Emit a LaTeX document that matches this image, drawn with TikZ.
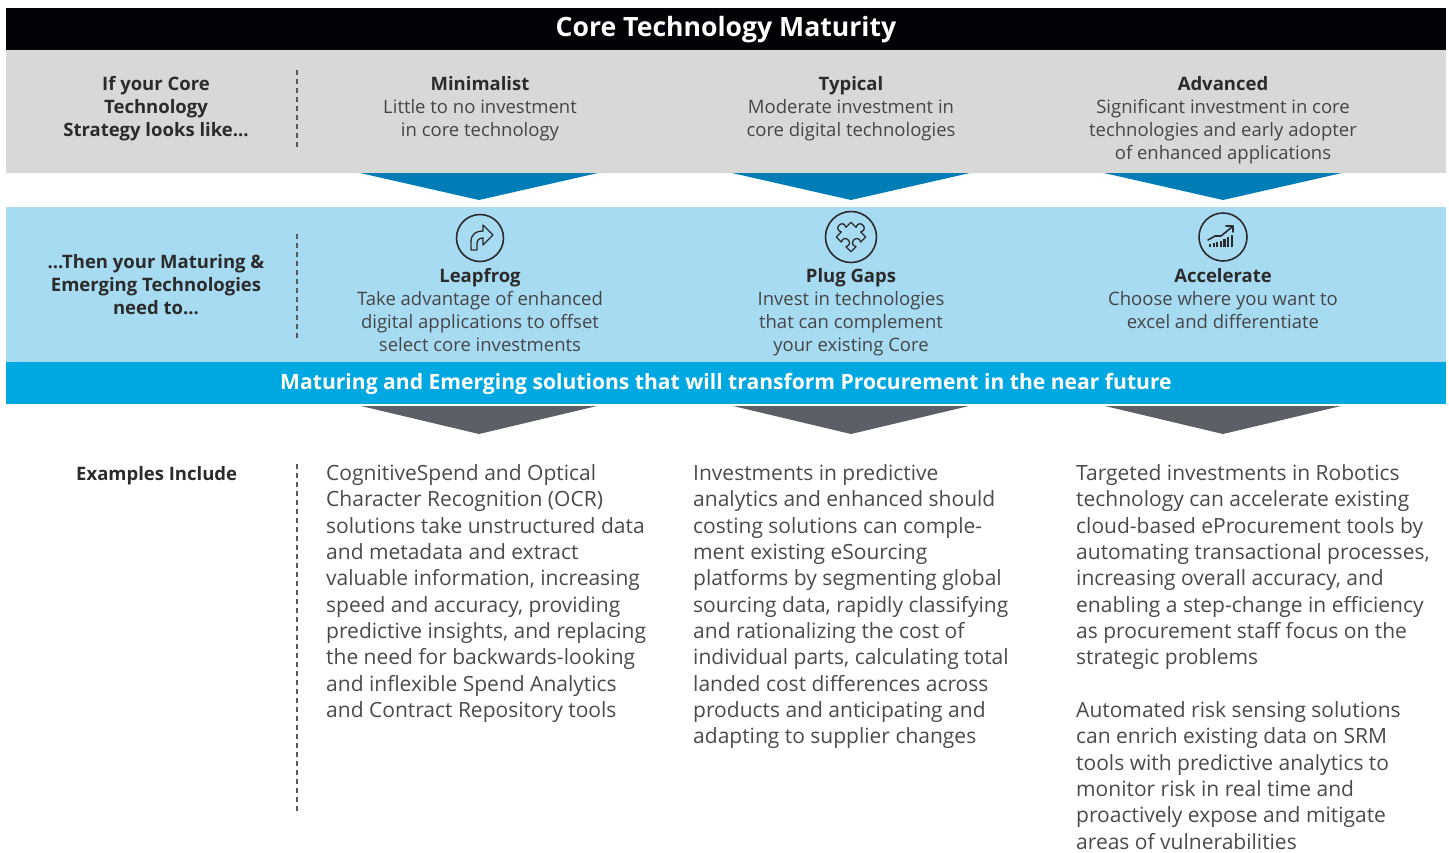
\documentclass[tikz,border=0pt]{standalone}
\usepackage{fontspec}
\setmainfont{Open Sans}
\definecolor{titlebk}{HTML}{030207}
\definecolor{bandgray}{HTML}{D8D9D7}
\definecolor{triblue}{HTML}{007CB6}
\definecolor{lightblue}{HTML}{A7DBF2}
\definecolor{bandblue}{HTML}{00A8E1}
\definecolor{trigray}{HTML}{5B6067}
\definecolor{headtxt}{HTML}{2B2B2B}
\definecolor{subtxt}{HTML}{454545}
\definecolor{bodytxt}{HTML}{4A4A4A}
\definecolor{dashcol}{HTML}{555A60}
\newcommand{\hdfont}{\fontsize{18.5}{23}\selectfont}
\newcommand{\bdfont}{\fontsize{21}{26.33}\selectfont}
\newcommand{\hd}[1]{\textbf{\color{headtxt}#1}}
\tikzset{
  sepline/.style={draw=dashcol, line width=1.5pt, dash pattern=on 5pt off 4pt},
  hdtext/.style={inner sep=0pt, anchor=base, text=subtxt, font=\hdfont},
  bdtext/.style={inner sep=0pt, anchor=base west, text=bodytxt, font=\bdfont},
  iconcirc/.style={draw=headtxt, line width=1.6pt},
  iconline/.style={draw=headtxt, line width=1.3pt, line join=round, line cap=round},
}
\begin{document}
\begin{tikzpicture}[x=1pt,y=-1pt]
\useasboundingbox (0,0) rectangle (1449,852);
% bands
\fill[titlebk] (6,8) rectangle (1446,50);
\fill[bandgray] (6,50) rectangle (1446,173);
\fill[lightblue] (6,207) rectangle (1446,362);
\fill[bandblue] (6,362) rectangle (1446,404);
% chevrons
\foreach \cx in {479,851,1223}{
  \fill[triblue] (\cx-119,173) -- (\cx+119,173) -- (\cx,200) -- cycle;
  \fill[trigray] (\cx-118,406) -- (\cx+118,406) -- (\cx,434) -- cycle;
}
% title
\node[inner sep=0pt, anchor=base, text=white, font=\fontsize{26.6}{30}\selectfont\bfseries] (title) at (726,36.5) {Core Technology Maturity};
% dashed separators
\coordinate (s1a) at (297,70); \coordinate (s1b) at (297,148);
\coordinate (s2a) at (297,234); \coordinate (s2b) at (297,340);
\coordinate (s3a) at (297,464); \coordinate (s3b) at (297,815);
\draw[sepline] (s1a) -- (s1b);
\draw[sepline] (s2a) -- (s2b);
\draw[sepline] (s3a) -- (s3b);
% row 1
\node[hdtext, text=headtxt] (q1) at (156,90.5) {\parbox[t]{260pt}{\centering\bfseries If your Core\\Technology\\Strategy looks like...}};
\node[hdtext] (min) at (480,90.5) {\parbox[t]{330pt}{\centering\hd{Minimalist}\\Little to no investment\\in core technology}};
\node[hdtext] (typ) at (851,90.5) {\parbox[t]{330pt}{\centering\hd{Typical}\\Moderate investment in\\core digital technologies}};
\node[hdtext] (adv) at (1223,90.5) {\parbox[t]{330pt}{\centering\hd{Advanced}\\Significant investment in core\\technologies and early adopter\\of enhanced applications}};
% row 2
\node[hdtext, text=headtxt] (q2) at (156,268.5) {\parbox[t]{260pt}{\centering\bfseries ...Then your Maturing \&\\Emerging Technologies\\need to...}};
\node[hdtext] (leap) at (480,282) {\parbox[t]{330pt}{\centering\hd{Leapfrog}\\Take advantage of enhanced\\digital applications to offset\\select core investments}};
\node[hdtext] (plug) at (851,282) {\parbox[t]{330pt}{\centering\hd{Plug Gaps}\\Invest in technologies\\that can complement\\your existing Core}};
\node[hdtext] (acc) at (1223,282) {\parbox[t]{330pt}{\centering\hd{Accelerate}\\Choose where you want to\\excel and differentiate}};
% icons
\node[iconcirc, circle, minimum size=47pt, inner sep=0pt] (ic1) at (480,238) {};
\node[iconcirc, circle, minimum size=51pt, inner sep=0pt] (ic2) at (851,237) {};
\node[iconcirc, circle, minimum size=48pt, inner sep=0pt] (ic3) at (1223,237) {};
% leapfrog arrow
\begin{scope}[shift={(ic1.center)}]
  \draw[iconline] (-9,12) -- (-9,4) .. controls (-9,-4) and (-4,-7) .. (3,-7) -- (3,-13) -- (13,-3) -- (3,7) -- (3,0) .. controls (-1,0) and (-3,2) .. (-3,6) -- (-3,12) -- cycle;
\end{scope}
% puzzle
\begin{scope}[shift={(ic2.center)}, rotate=45, scale=1.3]
  \draw[iconline] (-8,-8) -- (-2.5,-8) .. controls (-6,-14.5) and (6,-14.5) .. (2.5,-8) -- (8,-8) -- (8,-2.5) .. controls (14.5,-6) and (14.5,6) .. (8,2.5) -- (8,8) -- (2.5,8) .. controls (6,1.5) and (-6,1.5) .. (-2.5,8) -- (-8,8) -- (-8,2.5) .. controls (-1.5,6) and (-1.5,-6) .. (-8,-2.5) -- cycle;
\end{scope}
% chart
\begin{scope}[shift={(ic3.center)}]
  \foreach \i/\h in {0/3,1/4,2/5,3/6,4/8,5/10,6/12}{
    \draw[headtxt, line width=2.2pt] (-13+\i*3.6,10) -- (-13+\i*3.6,10-\h);
  }
  \draw[iconline, line width=1.6pt] (-15,3) -- (-8,-1) -- (-2,-1) -- (9,-10);
  \draw[iconline, line width=1.6pt] (3,-11) -- (10,-11) -- (10,-5);
\end{scope}
% blue band text
\node[inner sep=0pt, anchor=base, text=white, font=\fontsize{21.1}{24}\selectfont\bfseries] (band) at (726,389.5) {Maturing and Emerging solutions that will transform Procurement in the near future};
% examples
\node[inner sep=0pt, anchor=base west, text=headtxt, font=\hdfont\bfseries] (ex) at (76,480) {Examples Include};
\node[bdtext] (c1) at (326,480.5) {\parbox[t]{360pt}{\raggedright CognitiveSpend and Optical\\Character Recognition (OCR)\\solutions take unstructured data\\and metadata and extract\\valuable information, increasing\\speed and accuracy, providing\\predictive insights, and replacing\\the need for backwards-looking\\and inflexible Spend Analytics\\and Contract Repository tools}};
\node[bdtext] (c2) at (693,480.5) {\parbox[t]{360pt}{\raggedright Investments in predictive\\analytics and enhanced should\\costing solutions can comple-\\ment existing eSourcing\\platforms by segmenting global\\sourcing data, rapidly classifying\\and rationalizing the cost of\\individual parts, calculating total\\landed cost differences across\\products and anticipating and\\adapting to supplier changes}};
\node[bdtext] (c3) at (1076,480.5) {\parbox[t]{372pt}{\raggedright Targeted investments in Robotics\\technology can accelerate existing\\cloud-based eProcurement tools by\\automating transactional processes,\\increasing overall accuracy, and\\enabling a step-change in efficiency\\as procurement staff focus on the\\strategic problems\\[26.33pt]Automated risk sensing solutions\\can enrich existing data on SRM\\tools with predictive analytics to\\monitor risk in real time and\\proactively expose and mitigate\\areas of vulnerabilities}};
\end{tikzpicture}
\end{document}
